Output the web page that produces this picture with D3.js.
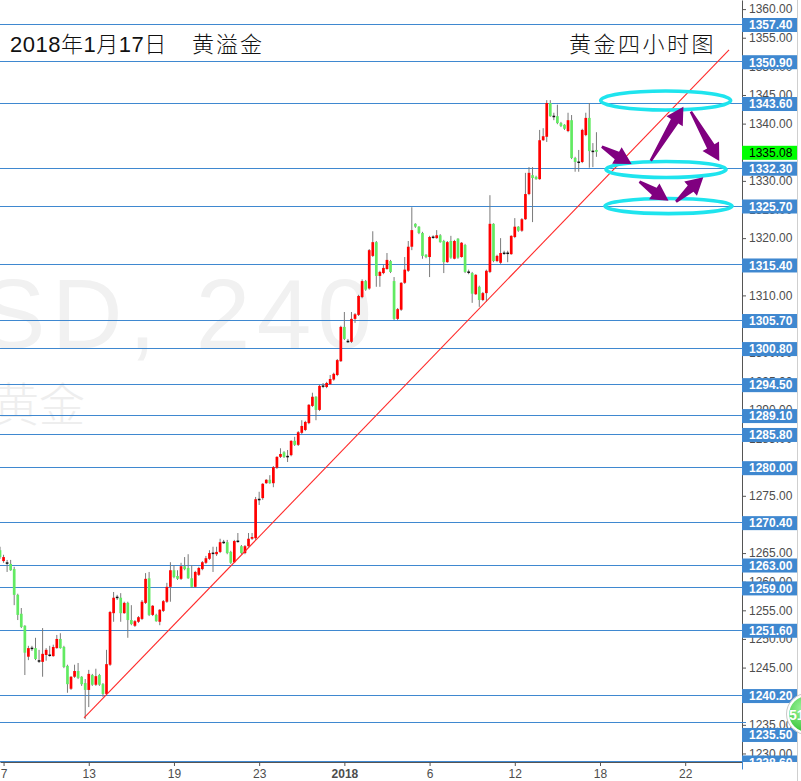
<!DOCTYPE html>
<html><head><meta charset="utf-8">
<script src="https://cdn.jsdelivr.net/npm/d3@7"></script>
<style>html,body{margin:0;padding:0;background:#fff;} svg{display:block}</style>
</head><body>
<svg id="chart" width="801" height="781"></svg>
<script>
// ---------------- DATA (4H bars, XAUUSD) ----------------
const open = [1265.5,1263.6,1263.3,1263.1,1262.2,1257.7,1254.4,1252.3,1246.9,1248.4,
1248.4,1246.2,1246.0,1247.2,1247.2,1247.0,1248.4,1250.0,1248.6,1245.3,
1241.3,1243.4,1244.4,1243.4,1242.3,1241.1,1243.7,1242.0,1243.7,1242.1,
1240.4,1245.5,1254.5,1257.3,1257.2,1254.5,1256.3,1253.3,1252.3,1253.0,
1253.5,1256.3,1260.6,1254.2,1254.2,1253.0,1254.9,1256.5,1259.1,1262.0,
1261.0,1260.5,1262.7,1262.4,1260.6,1259.1,1261.2,1262.2,1263.3,1264.0,
1265.0,1264.8,1265.2,1266.9,1266.9,1265.2,1263.4,1267.1,1266.2,1265.0,
1266.2,1267.5,1267.6,1274.4,1274.6,1277.2,1277.8,1277.2,1279.9,1281.8,
1282.6,1281.9,1282.1,1284.6,1283.9,1286.0,1286.5,1287.7,1290.7,1292.3,
1290.0,1294.2,1294.0,1294.5,1295.3,1296.1,1298.5,1304.5,1302.0,1301.9,
1305.9,1306.6,1309.7,1312.5,1311.2,1316.9,1319.3,1313.4,1313.9,1314.6,
1316.0,1312.5,1305.9,1307.5,1312.2,1314.3,1318.5,1322.5,1322.0,1320.9,
1317.1,1316.7,1320.2,1320.0,1320.5,1319.5,1315.8,1319.5,1316.4,1319.9,
1316.7,1318.8,1314.1,1313.9,1310.2,1311.5,1309.2,1310.4,1314.1,1322.5,
1316.0,1315.7,1317.4,1317.4,1317.2,1320.2,1322.0,1321.3,1323.3,1327.7,
1331.0,1330.7,1330.3,1337.1,1337.7,1343.6,1341.3,1341.3,1340.1,1339.8,
1338.7,1340.6,1334.0,1333.3,1333.3,1338.0,1341.0,1335.2,1335.4];
const high = [1266.1,1264.7,1263.8,1263.8,1262.6,1257.9,1255.4,1252.4,1248.8,1248.8,
1250.2,1248.1,1251.9,1248.4,1248.8,1249.0,1250.7,1251.0,1248.8,1245.5,
1243.5,1245.5,1245.8,1243.5,1243.0,1244.6,1243.9,1244.8,1243.9,1242.3,
1248.1,1254.9,1258.2,1257.7,1258.0,1256.5,1256.5,1255.9,1253.3,1254.0,
1256.8,1261.5,1261.7,1255.9,1254.4,1255.2,1256.8,1259.8,1263.4,1262.9,
1262.0,1263.3,1264.3,1264.8,1262.9,1261.9,1262.6,1263.6,1264.5,1265.5,
1266.1,1266.1,1267.5,1267.3,1267.3,1265.4,1267.3,1268.5,1266.4,1266.4,
1268.5,1268.5,1274.8,1275.7,1277.2,1277.9,1278.6,1280.2,1281.9,1283.3,
1282.8,1283.0,1284.7,1285.3,1286.3,1288.2,1288.1,1291.0,1293.0,1292.4,
1294.4,1294.7,1294.9,1296.1,1296.5,1298.9,1304.7,1307.1,1302.4,1307.1,
1306.9,1310.1,1312.8,1312.7,1318.1,1321.2,1319.5,1314.3,1315.3,1317.4,
1316.2,1313.2,1307.8,1312.3,1316.7,1319.5,1325.4,1322.6,1322.1,1321.1,
1317.2,1320.4,1320.5,1321.4,1320.7,1319.7,1319.5,1320.4,1319.7,1320.0,
1319.3,1319.0,1314.5,1314.1,1313.7,1311.7,1310.6,1314.5,1327.5,1322.6,
1317.1,1320.0,1317.8,1317.8,1320.5,1323.5,1322.1,1323.5,1331.4,1332.4,
1332.4,1330.9,1338.9,1339.2,1344.1,1344.1,1341.9,1343.3,1340.3,1339.9,
1341.9,1341.5,1334.2,1335.4,1339.1,1341.9,1343.6,1336.6,1338.5];
const low = [1264.0,1263.3,1261.7,1261.9,1255.9,1253.3,1251.9,1243.7,1246.3,1247.9,
1246.3,1245.8,1243.4,1246.2,1246.9,1246.9,1248.3,1248.3,1244.9,1240.6,
1241.1,1243.2,1243.0,1241.8,1236.0,1238.1,1241.8,1241.8,1241.8,1239.9,
1240.2,1245.3,1253.0,1256.8,1253.0,1254.4,1250.2,1252.4,1252.1,1252.8,
1253.3,1256.1,1254.0,1254.0,1253.0,1252.4,1254.7,1256.3,1256.5,1260.6,
1260.3,1260.3,1262.0,1260.5,1258.9,1258.9,1261.0,1262.0,1263.1,1263.8,
1261.7,1264.5,1265.0,1266.6,1264.8,1263.1,1263.3,1266.8,1264.8,1264.8,
1266.1,1267.3,1267.3,1273.4,1274.3,1277.1,1277.1,1276.5,1279.7,1281.6,
1281.6,1280.9,1281.9,1283.7,1283.7,1285.8,1286.3,1287.5,1290.5,1288.2,
1289.8,1293.8,1293.8,1294.4,1295.1,1295.9,1298.4,1302.2,1301.7,1301.7,
1305.2,1306.4,1309.5,1310.8,1311.0,1316.7,1311.5,1311.5,1313.7,1314.5,
1313.9,1305.7,1305.7,1307.3,1312.0,1314.1,1317.9,1321.8,1320.7,1316.4,
1316.5,1313.2,1319.9,1319.9,1319.2,1313.9,1315.7,1316.4,1316.3,1316.4,
1316.6,1313.9,1313.7,1308.7,1310.1,1308.0,1309.0,1308.9,1313.9,1315.8,
1315.8,1315.5,1317.1,1315.8,1317.1,1320.0,1321.1,1321.1,1323.2,1327.5,
1322.8,1330.2,1330.2,1337.0,1336.8,1341.2,1340.6,1339.9,1339.4,1338.9,
1338.5,1333.8,1331.6,1331.6,1333.1,1337.8,1332.3,1332.4,1334.2];
const close = [1264.3,1264.3,1263.2,1262.0,1257.7,1254.2,1252.1,1247.6,1248.4,1248.3,
1246.5,1246.1,1247.4,1248.1,1247.1,1248.6,1250.0,1248.4,1245.1,1242.1,
1243.4,1244.4,1243.2,1242.1,1241.1,1243.9,1242.0,1243.5,1242.0,1240.4,
1245.6,1254.7,1257.2,1257.2,1254.5,1256.3,1253.3,1252.6,1253.1,1253.8,
1256.5,1260.5,1254.2,1255.8,1253.1,1255.1,1256.6,1259.1,1262.0,1260.8,
1260.5,1262.7,1262.2,1260.6,1259.1,1261.7,1262.4,1263.4,1264.1,1265.0,
1264.9,1265.2,1266.9,1266.8,1265.0,1263.3,1267.1,1267.0,1265.0,1266.2,
1267.5,1267.8,1274.4,1274.3,1277.1,1277.8,1277.2,1280.0,1281.8,1282.3,
1281.8,1281.8,1284.6,1283.9,1286.1,1287.2,1287.9,1290.9,1292.3,1290.0,
1294.2,1294.1,1294.7,1295.4,1296.3,1298.7,1304.5,1302.4,1301.9,1305.9,
1306.7,1309.9,1312.5,1311.0,1317.9,1319.3,1313.4,1314.1,1314.8,1316.2,
1314.1,1305.9,1307.6,1312.2,1314.5,1318.5,1321.4,1322.0,1320.9,1316.9,
1316.7,1320.2,1320.1,1320.5,1319.3,1315.8,1319.3,1316.6,1319.5,1316.6,
1319.2,1314.1,1314.0,1310.3,1313.6,1309.2,1310.4,1314.3,1322.5,1316.0,
1316.9,1317.4,1317.3,1317.3,1320.4,1322.0,1321.3,1323.3,1327.7,1331.4,
1330.5,1330.3,1337.1,1337.8,1343.6,1341.3,1341.2,1340.1,1339.6,1339.1,
1340.6,1334.0,1333.3,1333.2,1338.9,1341.0,1335.2,1335.1,1335.08];

const levels = [1357.40,1350.90,1343.60,1332.30,1325.70,1315.40,1305.70,1300.80,1294.50,
  1289.10,1285.80,1280.00,1270.40,1263.00,1259.00,1251.60,1240.20,1235.50,1228.60];
const yTickValues = d3.range(1230, 1361, 5);
const xTickBars = [1,25,49,73,97,121,145,169,193];
const xTickLabels = ["7","13","19","23","2018","6","12","18","22"];
const lastPrice = 1335.08;

const trendBars = [23.66, 205.35];
const trendPrices = [1236.2, 1352.86];

const ellipseBar = [187.5, 187.6, 188.3];
const ellipsePrice = [1344.04, 1331.99, 1325.6];
const ellipseHalfBars = [18.3, 16.9, 17.9];
const ellipseHalfPrice = [1.66, 1.40, 1.31];

const arrowFromBar = [169.5, 183.3, 194.6, 180.1, 190.4];
const arrowFromPrice = [1335.97, 1333.52, 1342.08, 1329.86, 1326.37];
const arrowToBar = [177.9, 192.5, 202.6, 188.3, 198.1];
const arrowToPrice = [1332.95, 1342.95, 1333.47, 1326.54, 1330.63];

const titleLeftA = "2018年1月17日";
const titleLeftB = "黄溢金";
const titleRight = "黄金四小时图";
const watermark1 = "SD, 240";
const watermark2 = "黄金";
const badgeText = "51";

// ---------------- RENDER ----------------
const W = 801, H = 781, PR = 742, PB = 762;
const svg = d3.select("#chart");
const x = d3.scaleLinear().domain([0, 209.0]).range([0, PR]);
const y = d3.scaleLinear().domain([1228.51, 1361.59]).range([PB, 0]);

svg.append("rect").attr("width", W).attr("height", H).attr("fill", "#fff");
const defs = svg.append("defs");
defs.append("clipPath").attr("id", "plotClip").append("rect")
  .attr("x", 0).attr("y", 0).attr("width", PR).attr("height", PB);
const grad = defs.append("radialGradient").attr("id", "badgeGrad")
  .attr("cx", "40%").attr("cy", "35%").attr("r", "70%");
grad.append("stop").attr("offset", "0%").attr("stop-color", "#9ff59f");
grad.append("stop").attr("offset", "100%").attr("stop-color", "#2cc02c");

const plot = svg.append("g").attr("clip-path", "url(#plotClip)");

// watermark
plot.append("text").attr("x", -20).attr("y", 348)
  .attr("textLength", 392).attr("lengthAdjust", "spacing")
  .style("font-family", "'Liberation Sans', Arial, sans-serif")
  .style("font-size", "98px").attr("fill", "#f1f1f1").text(watermark1);
plot.append("text").attr("x", -7).attr("y", 421)
  .style("font-family", "'Noto Sans CJK SC', sans-serif").style("font-weight", 300)
  .style("font-size", "46px").attr("fill", "#eeeeee").text(watermark2);

// level lines
plot.selectAll("line.level").data(levels).enter().append("line")
  .attr("class", "level")
  .attr("x1", 0).attr("x2", PR)
  .attr("y1", d => Math.round(y(d)) + 0.5).attr("y2", d => Math.round(y(d)) + 0.5)
  .attr("stroke", "#3f88d0").attr("stroke-width", 1);

// candles
const bars = d3.range(open.length).map(i => ({i, o: open[i], h: high[i], l: low[i], c: close[i]}));
const candleG = plot.append("g");
candleG.selectAll("line.wick").data(bars).enter().append("line")
  .attr("x1", d => x(d.i)).attr("x2", d => x(d.i))
  .attr("y1", d => y(d.h)).attr("y2", d => y(d.l))
  .attr("stroke", "#7a7a7a").attr("stroke-width", 1);
const bw = 2.7;
candleG.selectAll("rect.body").data(bars).enter().append("rect")
  .attr("x", d => x(d.i) - bw / 2)
  .attr("width", bw)
  .attr("y", d => {
    const t = y(Math.max(d.o, d.c)), b = y(Math.min(d.o, d.c));
    return (b - t < 1.5) ? (t + b) / 2 - 0.75 : t;
  })
  .attr("height", d => Math.max(1.5, y(Math.min(d.o, d.c)) - y(Math.max(d.o, d.c))))
  .attr("fill", d => Math.abs(d.c - d.o) < 0.15 ? "#111" : (d.c > d.o ? "#ff0000" : "#62ea62"));

// trend line
plot.append("line")
  .attr("x1", x(trendBars[0])).attr("y1", y(trendPrices[0]))
  .attr("x2", x(trendBars[1])).attr("y2", y(trendPrices[1]))
  .attr("stroke", "#ff2a2a").attr("stroke-width", 1.1);

// ellipses
ellipseBar.forEach((b, k) => {
  svg.append("ellipse")
    .attr("cx", x(b)).attr("cy", y(ellipsePrice[k]))
    .attr("rx", x(ellipseHalfBars[k]) - x(0))
    .attr("ry", y(1228.51) - y(1228.51 + ellipseHalfPrice[k]))
    .attr("fill", "none").attr("stroke", "#1ee4ee").attr("stroke-width", 3.6);
});

// arrows
function arrowPath(x1, y1, x2, y2) {
  const dx = x2 - x1, dy = y2 - y1, L = Math.hypot(dx, dy);
  const ux = dx / L, uy = dy / L, px = -uy, py = ux;
  const headLen = 17, headHalf = 9.5, shaftTail = 1.3, shaftBase = 4.3;
  const bx = x2 - ux * headLen, by = y2 - uy * headLen;
  const pts = [
    [x1 + px * shaftTail, y1 + py * shaftTail],
    [bx + px * shaftBase, by + py * shaftBase],
    [bx + px * headHalf, by + py * headHalf],
    [x2, y2],
    [bx - px * headHalf, by - py * headHalf],
    [bx - px * shaftBase, by - py * shaftBase],
    [x1 - px * shaftTail, y1 - py * shaftTail]
  ];
  return "M" + pts.map(p => p.join(",")).join("L") + "Z";
}
arrowFromBar.forEach((b, k) => {
  svg.append("path")
    .attr("d", arrowPath(x(b), y(arrowFromPrice[k]), x(arrowToBar[k]), y(arrowToPrice[k])))
    .attr("fill", "#800080");
});

// titles
svg.append("text").attr("x", 10).attr("y", 52)
  .style("font-family", "'Liberation Sans', 'Noto Sans CJK SC', sans-serif")
  .style("font-weight", 300).style("letter-spacing", "0.5px")
  .style("font-size", "22px").attr("fill", "#111").text(titleLeftA);
svg.append("text").attr("x", 192).attr("y", 52)
  .style("font-family", "'Noto Sans CJK SC', sans-serif").style("font-weight", 300)
  .style("font-size", "22px").style("letter-spacing", "2px").attr("fill", "#111").text(titleLeftB);
svg.append("text").attr("x", 569).attr("y", 52)
  .style("font-family", "'Noto Sans CJK SC', sans-serif").style("font-weight", 300)
  .style("font-size", "22px").style("letter-spacing", "2.5px").attr("fill", "#111").text(titleRight);

// y axis
const yAxis = svg.append("g").attr("transform", `translate(${PR},0)`)
  .call(d3.axisRight(y).tickValues(yTickValues).tickFormat(d3.format(".2f")).tickSize(4).tickSizeOuter(0).tickPadding(3));
yAxis.select(".domain").attr("stroke", "#555");
yAxis.selectAll(".tick line").attr("stroke", "#555");
yAxis.selectAll("text").attr("fill", "#4d4d4d")
  .style("font-family", "'Liberation Sans', Arial, sans-serif").style("font-size", "12px");

// x axis
const xAxis = svg.append("g").attr("transform", `translate(0,${PB})`)
  .call(d3.axisBottom(x).tickValues(xTickBars).tickFormat((d, i) => xTickLabels[i]).tickSize(4).tickSizeOuter(0).tickPadding(3));
xAxis.select(".domain").attr("stroke", "#555");
xAxis.selectAll(".tick line").attr("stroke", "#555");
xAxis.selectAll("text").attr("fill", "#4d4d4d")
  .style("font-family", "'Liberation Sans Narrow', 'Liberation Sans', Arial, sans-serif")
  .style("font-size", "12px")
  .style("font-weight", (d, i) => xTickLabels[i] === "2018" ? "bold" : "normal");

// price labels
const nudge = {"1235.50": 12};
const boxG = svg.append("g");
levels.forEach(v => {
  const key = v.toFixed(2);
  const cy = y(v) + 1 + (nudge[key] || 0);
  boxG.append("rect").attr("x", PR).attr("y", cy - 7).attr("width", 55).attr("height", 14)
    .attr("fill", "#3f88d0");
  boxG.append("text").attr("x", PR + 7).attr("y", cy).attr("dy", "0.36em")
    .style("font-family", "'Liberation Sans', Arial, sans-serif").style("font-size", "12px")
    .style("font-weight", "bold").attr("fill", "#fff").text(key);
  boxG.append("line").attr("x1", PR).attr("x2", PR + 4)
    .attr("y1", Math.round(y(v)) + 0.5).attr("y2", Math.round(y(v)) + 0.5).attr("stroke", "#3f88d0");
});
{
  const cy = y(lastPrice) + 1;
  boxG.append("rect").attr("x", PR).attr("y", cy - 7).attr("width", 55).attr("height", 14).attr("fill", "#00ff00");
  boxG.append("text").attr("x", PR + 7).attr("y", cy).attr("dy", "0.36em")
    .style("font-family", "'Liberation Sans', Arial, sans-serif").style("font-size", "12px")
    .attr("fill", "#000").text(lastPrice.toFixed(2));
}
// cover below plot in axis column
svg.append("rect").attr("x", PR + 1).attr("y", PB).attr("width", W - PR).attr("height", H - PB).attr("fill", "#fff");
// right border
svg.append("line").attr("x1", 797.5).attr("x2", 797.5).attr("y1", 0).attr("y2", H)
  .attr("stroke", "#cfcfcf");

// badge
svg.append("circle").attr("cx", 807).attr("cy", 714).attr("r", 19)
  .attr("fill", "url(#badgeGrad)").attr("stroke", "#fff").attr("stroke-width", 2.5);
svg.append("circle").attr("cx", 807).attr("cy", 714).attr("r", 20.5)
  .attr("fill", "none").attr("stroke", "#c8c8c8").attr("stroke-width", 1);
svg.append("text").attr("x", 789).attr("y", 720)
  .style("font-family", "'Liberation Sans', Arial, sans-serif").style("font-size", "14px")
  .style("font-weight", "bold").attr("fill", "#fff").text(badgeText);
</script>
</body></html>
